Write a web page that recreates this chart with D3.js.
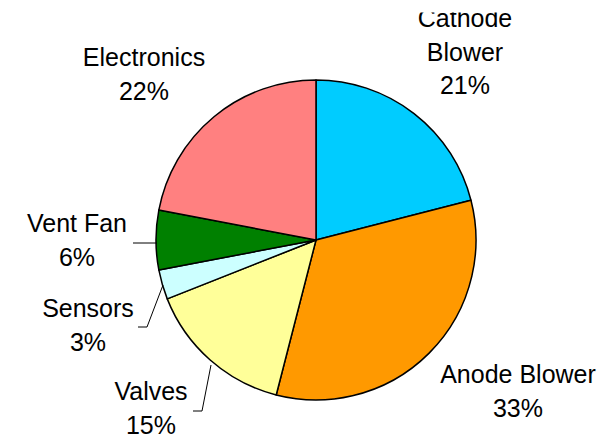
<!DOCTYPE html>
<html><head><meta charset="utf-8">
<script src="https://cdn.jsdelivr.net/npm/d3@7"></script>
<style>body{margin:0;background:#fff}svg{display:block}</style>
</head><body>
<svg id="c" width="611" height="439"></svg>
<script>
const categories = ["Cathode Blower","Anode Blower","Valves","Sensors","Vent Fan","Electronics"];
const values = [21,33,15,3,6,22];
const colors = ["#00CCFF","#FF9900","#FFFF99","#CCFFFF","#008000","#FF8080"];
// label layout: text lines, center x, first baseline, leader polyline
const labelLines = [["Cathode","Blower","21%"],["Anode Blower","33%"],["Valves","15%"],["Sensors","3%"],["Vent Fan","6%"],["Electronics","22%"]];
const labelPos = [[465,27],[518,383],[151,400],[88,317],[77,232],[144,66]];
const leaders = [null,null,[[193,411],[202,411],[211,365]],[[138,327],[147,327],[163,285]],[[133,243],[157,243]],null];

const svg = d3.select("#c");
svg.append("defs").append("clipPath").attr("id","clipTop")
  .append("rect").attr("x",0).attr("y",12.5).attr("width",611).attr("height",430);
const cx = 316, cy = 240, r = 160;
const pie = d3.pie().sort(null).value(d=>d)(values);
const arc = d3.arc().innerRadius(0).outerRadius(r);
const g = svg.append("g").attr("transform",`translate(${cx},${cy})`);
g.selectAll("path").data(pie).join("path")
  .attr("d",arc).attr("fill",(d,i)=>colors[i])
  .attr("stroke","#000").attr("stroke-width",1.5).attr("stroke-linejoin","round");

const line = d3.line();
leaders.forEach(l=>{ if(l) svg.append("path").attr("d",line(l)).attr("fill","none").attr("stroke","#000").attr("stroke-width",1); });

const tg = svg.append("g").attr("clip-path","url(#clipTop)");
labelLines.forEach((ls,i)=>{
  const t = tg.append("text").attr("text-anchor","middle")
    .attr("font-family","Liberation Sans, Arial, sans-serif").attr("font-size",25).attr("fill","#000");
  ls.forEach((s,j)=>t.append("tspan").attr("x",labelPos[i][0]).attr("y",labelPos[i][1]+j*33.5).text(s));
});
</script>
</body></html>
